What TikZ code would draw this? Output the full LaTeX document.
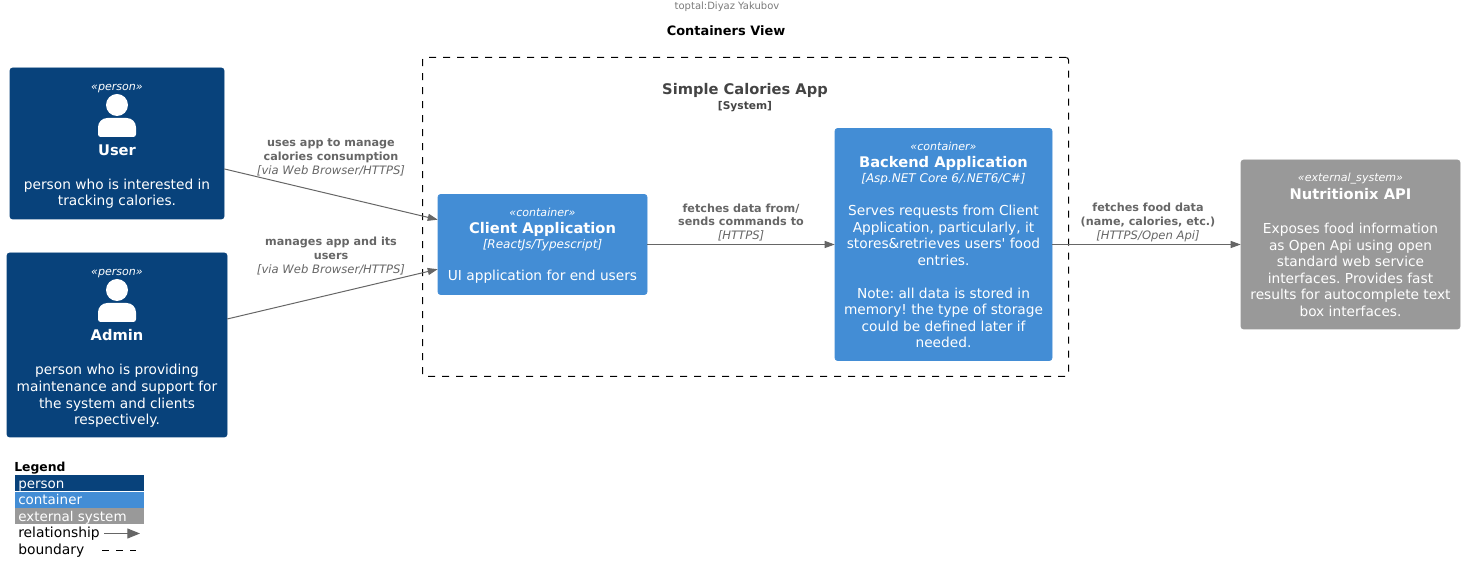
\documentclass[tikz,border=0pt]{standalone}
\usepackage{fontspec}
\setmainfont{DejaVu Sans}
\usetikzlibrary{arrows.meta, positioning}
\frenchspacing

\definecolor{personblue}{HTML}{08427B}
\definecolor{containerblue}{HTML}{438DD5}
\definecolor{externalgrey}{HTML}{999999}
\definecolor{relgrey}{HTML}{666666}
\definecolor{boundarygrey}{HTML}{444444}

\newcommand{\sizeBody}{\fontsize{10.3}{12.4}\selectfont}
\newcommand{\sizeRel}{\fontsize{8.4}{10.4}\selectfont}
\newcommand{\relTech}[1]{{\fontsize{8.7}{10.4}\selectfont\mdseries\itshape #1}}

\tikzset{
    box/.style={rectangle, rounded corners=1.8pt, inner sep=0pt, draw=#1, fill=#1},
    stereo/.style={anchor=base, text=white, font=\fontsize{8.3}{10}\selectfont\itshape},
    title/.style={anchor=base, text=white, font=\fontsize{11}{14}\selectfont\bfseries},
    tech/.style={anchor=base, text=white, font=\fontsize{9}{11}\selectfont\itshape},
    desc/.style={align=center, text=white, inner sep=0pt, font=\sizeBody},
    rel/.style={draw=relgrey, line width=0.75pt, -{Triangle[length=7.5pt, width=5.25pt]}},
    rellabel/.style={align=center, text=relgrey, inner sep=0pt, font=\sizeRel\bfseries},
    bounds/.style={draw=black, line width=0.75pt, dash pattern=on 5.25pt off 5.25pt},
    legendbox/.style={rectangle, anchor=north west, inner sep=0pt, minimum width=96.75pt, minimum height=11.9pt, fill=#1},
    legendtext/.style={anchor=base west, inner sep=0pt, font=\fontsize{10.1}{12}\selectfont}
}

\begin{document}
\begin{tikzpicture}[x=0.75pt, y=-0.75pt]
    \def\px{0.75pt}
    \useasboundingbox (0, 0) rectangle (1465, 580);

    % Header
    \node[inner sep=0pt, text=externalgrey!80!black, font=\fontsize{7.5}{9}\selectfont] (author) at (727, 6.5) {toptal:Diyaz Yakubov};
    \node[inner sep=0pt, font=\fontsize{9.7}{12}\selectfont\bfseries] (heading) at (726, 31) {Containers View};

    % Draw system boundary
    \node[rectangle, rounded corners=1.8pt, inner sep=0pt, bounds,
        minimum width={646 * \px}, minimum height={319 * \px}] (boundary) at (745.5, 217) {};
    \node[anchor=base, text=boundarygrey, font=\fontsize{11}{14}\selectfont\bfseries] (boundaryName) at (745, 95) {Simple Calories App};
    \node[anchor=base, text=boundarygrey, font=\fontsize{8}{10}\selectfont\bfseries] (boundaryKind) at (745, 110) {[System]};

    % Draw boxes
    \node[box=personblue, minimum width={214 * \px}, minimum height={151 * \px}] (user) at (117, 143.5) {};
    \node[box=personblue, minimum width={220 * \px}, minimum height={184 * \px}] (admin) at (117, 345) {};
    \node[box=containerblue, minimum width={209 * \px}, minimum height={100 * \px}] (client) at (542.5, 244.5) {};
    \node[box=containerblue, minimum width={217 * \px}, minimum height={232 * \px}] (backend) at (943.5, 244.5) {};
    \node[box=externalgrey, minimum width={219 * \px}, minimum height={169 * \px}] (nutritionix) at (1350.5, 244.5) {};

    % Draw person icons
    \foreach \name/\y in {user/105, admin/290} {
        \fill[white] (117, \y) circle (11);
        \fill[white, rounded corners=2pt] (98, \y + 32) [rounded corners=7pt] -- (98, \y + 13) -- (136, \y + 13) [rounded corners=2pt] -- (136, \y + 32) -- cycle;
    }

    % Label user
    \node[stereo] (userStereo) at (117, 90.5) {«person»};
    \node[title] (userName) at (117, 155.5) {User};
    \node[desc] (userDesc) at (117, 193.5) {person who is interested in\\tracking calories.};

    % Label admin
    \node[stereo] (adminStereo) at (117, 275.5) {«person»};
    \node[title] (adminName) at (117, 340.5) {Admin};
    \node[desc] (adminDesc) at (117, 396) {person who is providing\\maintenance and support for\\the system and clients\\respectively.};

    % Label client
    \node[stereo] (clientStereo) at (542.5, 216.5) {«container»};
    \node[title] (clientName) at (542.5, 233.5) {Client Application};
    \node[tech] (clientTech) at (542.5, 249) {[ReactJs/Typescript]};
    \node[desc] (clientDesc) at (542.5, 277) {UI application for end users};

    % Label backend
    \node[stereo] (backendStereo) at (943.5, 150.5) {«container»};
    \node[title] (backendName) at (943.5, 167.5) {Backend Application};
    \node[tech] (backendTech) at (943.5, 183) {[Asp.NET Core 6/.NET6/C\#]};
    \node[desc] (backendDesc) at (943.5, 276.5) {Serves requests from Client\\Application, particularly, it\\stores\&retrieves users\textquotesingle{} food\\entries.\\[12.4pt]Note: all data is stored in\\memory! the type of storage\\could be defined later if\\needed.};

    % Label external system
    \node[stereo] (nutritionixStereo) at (1350.5, 181.5) {«external\_system»};
    \node[title] (nutritionixName) at (1350.5, 199.5) {Nutritionix API};
    \node[desc] (nutritionixDesc) at (1350.5, 270) {Exposes food information\\as Open Api using open\\standard web service\\interfaces. Provides fast\\results for autocomplete text\\box interfaces.};

    % Draw relationships
    \draw[rel] (user) -- (client);
    \draw[rel] (admin) -- (client);
    \draw[rel] (client) -- (backend);
    \draw[rel] (backend) -- (nutritionix);

    % Label relationships
    \node[rellabel] (userRel) at (331, 157) {uses app to manage\\calories consumption\\\relTech{[via Web Browser/HTTPS]}};
    \node[rellabel] (adminRel) at (331, 256) {manages app and its\\users\\\relTech{[via Web Browser/HTTPS]}};
    \node[rellabel] (clientRel) at (741, 222.5) {fetches data from/\\sends commands to\\\relTech{[HTTPS]}};
    \node[rellabel] (backendRel) at (1148, 222.5) {fetches food data\\(name, calories, etc.)\\\relTech{[HTTPS/Open Api]}};

    % Draw legend
    \node[anchor=base west, inner sep=0pt, font=\fontsize{9.3}{12}\selectfont\bfseries] (legendName) at (14, 472) {Legend};
    \node[legendbox=personblue] (legendPerson) at (15, 475) {};
    \node[legendbox=containerblue] (legendContainer) at (15, 492) {};
    \node[legendbox=externalgrey] (legendExternal) at (15, 508) {};
    \node[legendtext, text=white] (legendPersonText) at (18, 488.5) {person};
    \node[legendtext, text=white] (legendContainerText) at (18, 505) {container};
    \node[legendtext, text=white] (legendExternalText) at (18, 521.5) {external system};
    \node[legendtext, font=\fontsize{10.4}{12}\selectfont] (legendRel) at (18, 538) {relationship};
    \node[legendtext, font=\fontsize{10.4}{12}\selectfont] (legendBoundary) at (18, 554.5) {boundary};

    \coordinate (relStart) at (104, 533.5);
    \coordinate (relEnd) at (140, 533.5);
    \coordinate (boundaryStart) at (102, 550.5);
    \coordinate (boundaryEnd) at (136, 550.5);
    \draw[rel, -{Triangle[length=9.5pt, width=7.5pt]}] (relStart) -- (relEnd);
    \draw[bounds] (boundaryStart) -- (boundaryEnd);
\end{tikzpicture}
\end{document}
